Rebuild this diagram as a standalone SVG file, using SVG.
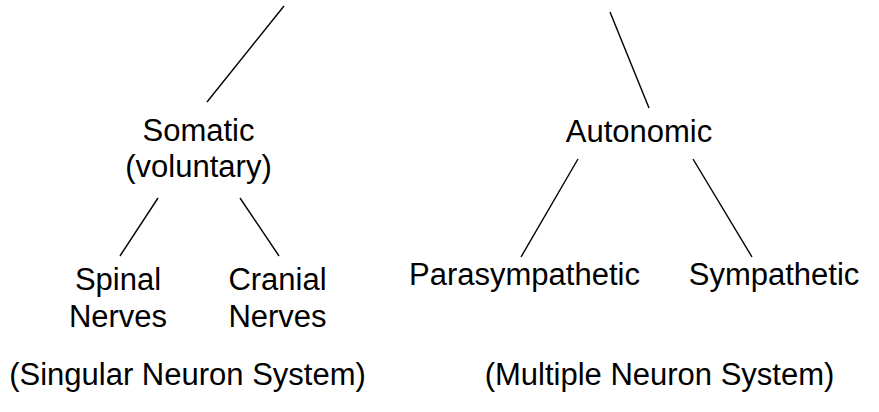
<svg xmlns="http://www.w3.org/2000/svg" width="879" height="412" viewBox="0 0 879 412">
<style>
text{font-family:"Liberation Sans",Arial,sans-serif;font-size:31px;fill:#000;text-anchor:middle}
line{stroke:#000;stroke-width:1.4}
</style>
<rect width="879" height="412" fill="#fff"/>
<g id="connectors">
<line x1="284" y1="6" x2="207" y2="102"/>
<line x1="610" y1="12" x2="649" y2="108"/>
<line x1="158" y1="198" x2="120" y2="256"/>
<line x1="240" y1="198" x2="279" y2="256"/>
<line x1="578" y1="159" x2="521" y2="257"/>
<line x1="693" y1="159" x2="752" y2="257"/>
</g>
<g id="somatic"><text x="198.5" y="141">Somatic</text><text x="198.5" y="177">(voluntary)</text></g>
<g id="spinal"><text x="118" y="290">Spinal</text><text x="118" y="327">Nerves</text></g>
<g id="cranial"><text x="277.5" y="290">Cranial</text><text x="277.5" y="327">Nerves</text></g>
<g id="autonomic"><text x="639" y="142">Autonomic</text></g>
<g id="parasympathetic"><text x="524.5" y="285">Parasympathetic</text></g>
<g id="sympathetic"><text x="774" y="285">Sympathetic</text></g>
<g id="singular"><text x="187.5" y="385">(Singular Neuron System)</text></g>
<g id="multiple"><text x="659.5" y="385">(Multiple Neuron System)</text></g>
</svg>
